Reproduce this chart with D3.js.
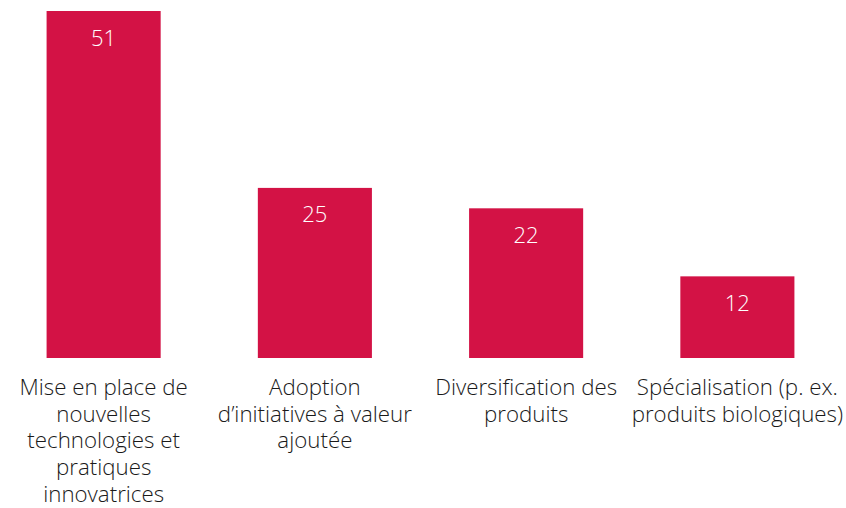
<!DOCTYPE html>
<html><head><meta charset="utf-8">
<script src="https://cdn.jsdelivr.net/npm/d3@7"></script>
<style>body{margin:0;background:#fff}svg{display:block}</style>
</head><body>
<script>
const categories = [
  ["Mise en place de","nouvelles","technologies et","pratiques","innovatrices"],
  ["Adoption","d\u2019initiatives à valeur","ajoutée"],
  ["Diversification des","produits"],
  ["Spécialisation (p. ex.","produits biologiques)"]
];
const keys = ["a","b","c","d"];
const values = [51, 25, 22, 12];

const W = 846, H = 508;
const svg = d3.select("body").append("svg").attr("width", W).attr("height", H);
const x = d3.scaleBand().domain(keys).range([-2, 843]).paddingInner(0.46).paddingOuter(0.23);
const y = d3.scaleLinear().domain([0, 51]).range([358, 11]);
const color = "#D31245";
const font = "'Open Sans', sans-serif";

svg.selectAll("rect.bar").data(values).join("rect")
  .attr("class","bar")
  .attr("x", (d,i) => x(keys[i]))
  .attr("width", x.bandwidth())
  .attr("y", d => y(d))
  .attr("height", d => y(0) - y(d))
  .attr("fill", color);

svg.selectAll("text.val").data(values).join("text")
  .attr("class","val")
  .attr("x", (d,i) => x(keys[i]) + x.bandwidth()/2)
  .attr("y", d => y(d) + 34.5)
  .attr("text-anchor","middle")
  .attr("fill","#fff")
  .style("font-family", font)
  .style("font-weight","300")
  .style("font-size","22px")
  .text(d => d);

const g = svg.selectAll("text.cat").data(categories).join("text")
  .attr("class","cat")
  .attr("text-anchor","middle")
  .attr("fill","#1a1a1a")
  .style("font-family", font)
  .style("font-weight","300")
  .style("font-size","22.3px")
  .attr("transform", (d,i) => `translate(${x(keys[i]) + x.bandwidth()/2},395)`);
g.selectAll("tspan").data(d => d).join("tspan")
  .attr("x", 0)
  .attr("y", (d,j) => j*26.7)
  .text(d => d);
</script>
</body></html>
